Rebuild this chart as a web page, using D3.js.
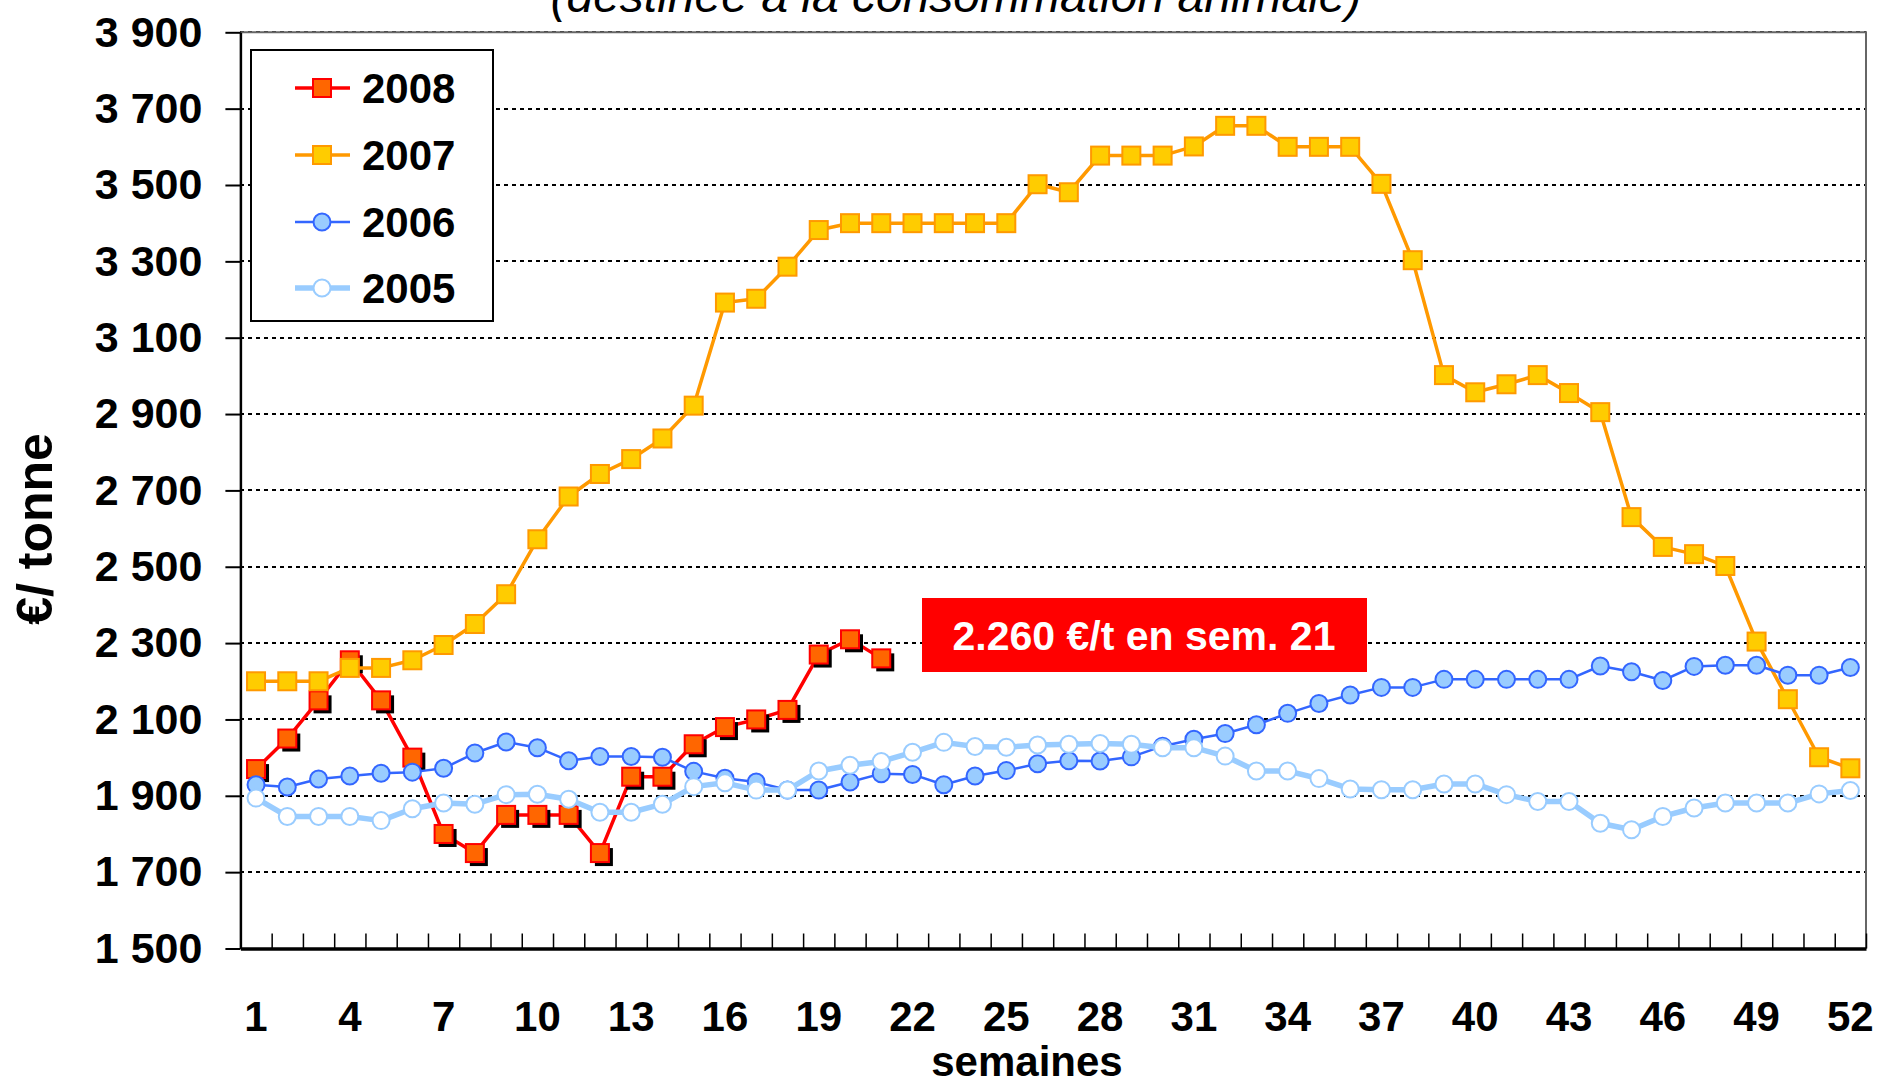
<!DOCTYPE html>
<html>
<head>
<meta charset="utf-8">
<script src="https://cdn.jsdelivr.net/npm/d3@7"></script>
<style>
    body { margin: 0; background: #fff; }
    svg { display: block; font-family: "Liberation Sans", Arial, sans-serif; }
</style>
</head>
<body>
<svg width="1885" height="1085"></svg>
<script>
// weeks and tick labels
var weeks = d3.range(1, 53);
var weekLabels = [1, 4, 7, 10, 13, 16, 19, 22, 25, 28, 31, 34, 37, 40, 43, 46, 49, 52];
var yTicks = [1500, 1700, 1900, 2100, 2300, 2500, 2700, 2900, 3100, 3300, 3500, 3700, 3900];

// prices in €/tonne, one value per week
var prix2008 = [1970, 2050, 2150, 2255, 2150, 2000, 1800, 1750, 1850, 1850, 1850, 1750, 1950, 1950,
    2035, 2080, 2100, 2125, 2270, 2310, 2260];
var prix2007 = [2200, 2200, 2200, 2235, 2235, 2255, 2295, 2350, 2428, 2572, 2684, 2743, 2782, 2836,
    2922, 3192, 3202, 3286, 3382, 3400, 3400, 3400, 3400, 3400, 3400, 3502, 3481, 3577, 3577, 3577,
    3601, 3655, 3655, 3600, 3600, 3600, 3503, 3303, 3002, 2957, 2978, 3002, 2955, 2905, 2630, 2552,
    2533, 2502, 2304, 2153, 2001, 1972];
var prix2006 = [1929, 1923, 1944, 1952, 1959, 1962, 1972, 2012, 2041, 2026, 1992, 2003, 2003, 2001,
    1964, 1946, 1936, 1915, 1915, 1936, 1958, 1956, 1929, 1952, 1966, 1984, 1992, 1991, 2002, 2030,
    2048, 2063, 2086, 2116, 2142, 2164, 2184, 2184, 2205, 2205, 2205, 2205, 2205, 2240, 2225, 2202,
    2239, 2242, 2242, 2216, 2216, 2236];
var prix2005 = [1894, 1846, 1846, 1846, 1835, 1866, 1881, 1878, 1903, 1904, 1891, 1857, 1857, 1878,
    1924, 1934, 1915, 1915, 1965, 1980, 1990, 2014, 2040, 2029, 2027, 2033, 2035, 2037, 2035, 2026,
    2026, 2004, 1965, 1965, 1945, 1918, 1916, 1916, 1931, 1931, 1903, 1885, 1885, 1828, 1811, 1846,
    1868, 1881, 1881, 1881, 1905, 1914];

var series = [
    { name: "2008", values: prix2008, line: "#FF0000", lw: 3.5, fill: "#FF6600", stroke: "#FF0000", shape: "square", shadow: true },
    { name: "2007", values: prix2007, line: "#FF9900", lw: 3.5, fill: "#FFCC00", stroke: "#FF9900", shape: "square", shadow: false },
    { name: "2006", values: prix2006, line: "#3366FF", lw: 2.5, fill: "#99CCFF", stroke: "#3366FF", shape: "circle", shadow: false },
    { name: "2005", values: prix2005, line: "#99CCFF", lw: 5.5, fill: "#FFFFFF", stroke: "#99CCFF", shape: "circle", shadow: false }
];

var svg = d3.select("svg"),
    plotLeft = 240.4, plotRight = 1866, plotTop = 32.3, plotBottom = 948.5;

//scales
var x = d3.scaleBand().domain(weeks).range([plotLeft, plotRight]),
    xEdge = d3.scaleLinear().domain([0, 52]).range([plotLeft, plotRight]),
    y = d3.scaleLinear().domain([1500, 3900]).range([plotBottom, plotTop]);

var fmt = function (d) { return d3.format(",")(d).replace(",", " "); };

//subtitle (top is cut off)
svg.append("text")
    .attr("x", 956)
    .attr("y", 12)
    .attr("text-anchor", "middle")
    .attr("font-size", "48px")
    .attr("font-style", "italic")
    .text("(destinée à la consommation animale)");

//gridlines
svg.append("g")
    .selectAll("line")
    .data(yTicks.slice(1))
    .enter().append("line")
    .attr("x1", plotLeft)
    .attr("x2", plotRight)
    .attr("y1", function (d) { return Math.round(y(d)); })
    .attr("y2", function (d) { return Math.round(y(d)); })
    .attr("stroke", "#000")
    .attr("stroke-width", 2.5)
    .attr("stroke-dasharray", "4,4")
    .attr("shape-rendering", "crispEdges");

//plot frame top + right
svg.append("path")
    .attr("d", "M" + plotLeft + "," + plotTop + "H" + plotRight + "V" + plotBottom)
    .attr("fill", "none")
    .attr("stroke", "#666")
    .attr("stroke-width", 2);

//y axis
var yAxis = svg.append("g")
    .attr("transform", "translate(" + plotLeft + ",0)")
    .call(d3.axisLeft(y).tickValues(yTicks).tickSize(15).tickSizeOuter(0).tickPadding(23).tickFormat(fmt));
yAxis.select(".domain").attr("stroke-width", 2.5);
yAxis.selectAll(".tick line").attr("stroke-width", 2);
yAxis.selectAll("text")
    .attr("font-size", "43px")
    .attr("font-weight", "bold")
    .attr("font-family", "Liberation Sans, Arial, sans-serif")
    .attr("fill", "#000");

//x axis: inside ticks at week boundaries
var xTicks = svg.append("g")
    .attr("transform", "translate(0," + plotBottom + ")")
    .call(d3.axisBottom(xEdge).tickValues(d3.range(0, 53)).tickSize(-15).tickSizeOuter(0).tickFormat(""));
xTicks.select(".domain").attr("stroke-width", 3.5);
xTicks.selectAll(".tick line").attr("stroke-width", 1.5);

//x axis labels every 3 weeks
var xAxis = svg.append("g")
    .attr("transform", "translate(0," + plotBottom + ")")
    .call(d3.axisBottom(x).tickValues(weekLabels).tickSize(0).tickPadding(53));
xAxis.select(".domain").remove();
xAxis.selectAll("text")
    .attr("font-size", "42px")
    .attr("font-weight", "bold")
    .attr("font-family", "Liberation Sans, Arial, sans-serif")
    .attr("fill", "#000");

//axis titles
svg.append("text")
    .attr("x", 1027)
    .attr("y", 1076)
    .attr("text-anchor", "middle")
    .attr("font-size", "42px")
    .attr("font-weight", "bold")
    .text("semaines");

svg.append("text")
    .attr("transform", "translate(52,529) rotate(-90)")
    .attr("text-anchor", "middle")
    .attr("font-size", "50px")
    .attr("font-weight", "bold")
    .text("€/ tonne");

//draw series lines + markers
var line = d3.line()
    .x(function (d, i) { return x(weeks[i]) + x.bandwidth() / 2; })
    .y(function (d) { return y(d); });

var sq = 18, rad = 8.5;

function drawMarker(sel, s, cx, cy) {
    if (s.shape == "square") {
        if (s.shadow) {
            sel.append("rect")
                .attr("x", cx - sq / 2 + 4).attr("y", cy - sq / 2 + 4)
                .attr("width", sq).attr("height", sq)
                .attr("fill", "#000");
        }
        sel.append("rect")
            .attr("x", cx - sq / 2).attr("y", cy - sq / 2)
            .attr("width", sq).attr("height", sq)
            .attr("fill", s.fill)
            .attr("stroke", s.stroke)
            .attr("stroke-width", 2);
    } else {
        sel.append("circle")
            .attr("cx", cx).attr("cy", cy)
            .attr("r", rad)
            .attr("fill", s.fill)
            .attr("stroke", s.stroke)
            .attr("stroke-width", 2);
    }
}

series.forEach(function (s) {
    var g = svg.append("g");
    g.append("path")
        .datum(s.values)
        .attr("d", line)
        .attr("fill", "none")
        .attr("stroke", s.line)
        .attr("stroke-width", s.lw)
        .attr("stroke-linejoin", "round");
    s.values.forEach(function (v, i) {
        drawMarker(g, s, x(weeks[i]) + x.bandwidth() / 2, y(v));
    });
});

//annotation box
svg.append("rect")
    .attr("x", 922)
    .attr("y", 598)
    .attr("width", 445)
    .attr("height", 74)
    .attr("fill", "#FF0000");
svg.append("text")
    .attr("x", 1144)
    .attr("y", 650)
    .attr("text-anchor", "middle")
    .attr("font-size", "41px")
    .attr("font-weight", "bold")
    .attr("fill", "#fff")
    .text("2.260 €/t en sem. 21");

//legend
var legend = svg.append("g");
legend.append("rect")
    .attr("x", 251)
    .attr("y", 50)
    .attr("width", 242)
    .attr("height", 271)
    .attr("fill", "#fff")
    .attr("stroke", "#000")
    .attr("stroke-width", 2);

var legendY = [88, 155, 222, 288];
series.forEach(function (s, i) {
    var ly = legendY[i];
    legend.append("line")
        .attr("x1", 295).attr("x2", 350)
        .attr("y1", ly).attr("y2", ly)
        .attr("stroke", s.line)
        .attr("stroke-width", s.lw);
    drawMarker(legend, { shape: s.shape, fill: s.fill, stroke: s.stroke, shadow: false }, 322, ly);
    legend.append("text")
        .attr("x", 362)
        .attr("y", ly + 14.5)
        .attr("font-size", "42px")
        .attr("font-weight", "bold")
        .text(s.name);
});
</script>
</body>
</html>
